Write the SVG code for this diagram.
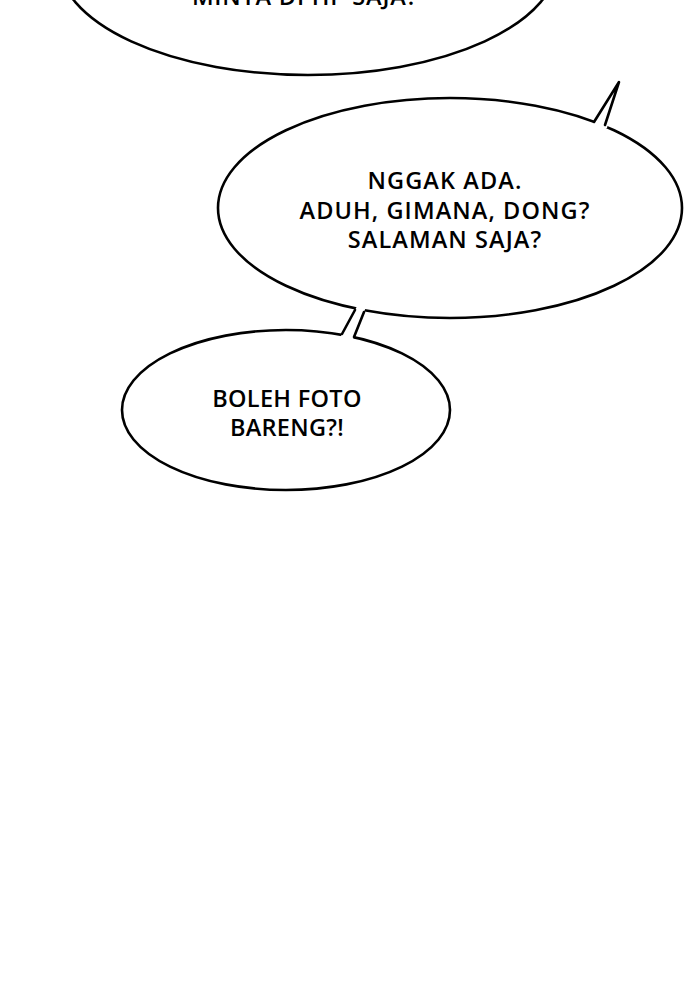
<svg xmlns="http://www.w3.org/2000/svg" width="700" height="1000" viewBox="0 0 700 1000">
  <style>
    .bubble { fill: #ffffff; stroke: #000000; stroke-width: 2.6; }
    .gap { fill: #ffffff; stroke: none; }
    .edge { fill: none; stroke: #000000; stroke-width: 2.6; stroke-linejoin: round; stroke-linecap: round; }
    .txt { font-family: "Open Sans", "Noto Sans", "DejaVu Sans", sans-serif; font-weight: 600; font-size: 23.5px; fill: #000000; text-anchor: middle; }
    .wide { letter-spacing: 1.1px; }
    .mid { letter-spacing: 0.8px; }
    .narrow { letter-spacing: 0.3px; }
  </style>
  <rect x="0" y="0" width="700" height="1000" fill="#ffffff"/>
  <g id="bubble-top">
    <ellipse class="bubble" cx="308" cy="-40" rx="250" ry="115"/>
    <text class="txt mid" x="305" y="5">MINTA DI HP SAJA?</text>
  </g>
  <g id="bubble-middle">
    <ellipse class="bubble" cx="450" cy="208" rx="232" ry="110"/>
    <text class="txt wide"><tspan x="445" y="189">NGGAK ADA.</tspan><tspan x="445" y="219">ADUH, GIMANA, DONG?</tspan><tspan x="445" y="248">SALAMAN SAJA?</tspan></text>
  </g>
  <g id="bubble-bottom">
    <ellipse class="bubble" cx="286" cy="410" rx="164" ry="80"/>
    <text class="txt narrow"><tspan x="287" y="407">BOLEH FOTO</tspan><tspan x="287" y="436">BARENG?!</tspan></text>
  </g>
  <g id="connectors">
    <polygon class="gap" points="592,125 619,82 607,128 600,131"/>
    <polyline class="edge" points="594,122 619,82 605,125"/>
    <polygon class="gap" points="357.6,305.2 366,307 352,342 339.4,338.8"/>
    <line class="edge" x1="355" y1="310" x2="342" y2="334"/>
    <line class="edge" x1="364" y1="312" x2="354" y2="337"/>
  </g>
</svg>
